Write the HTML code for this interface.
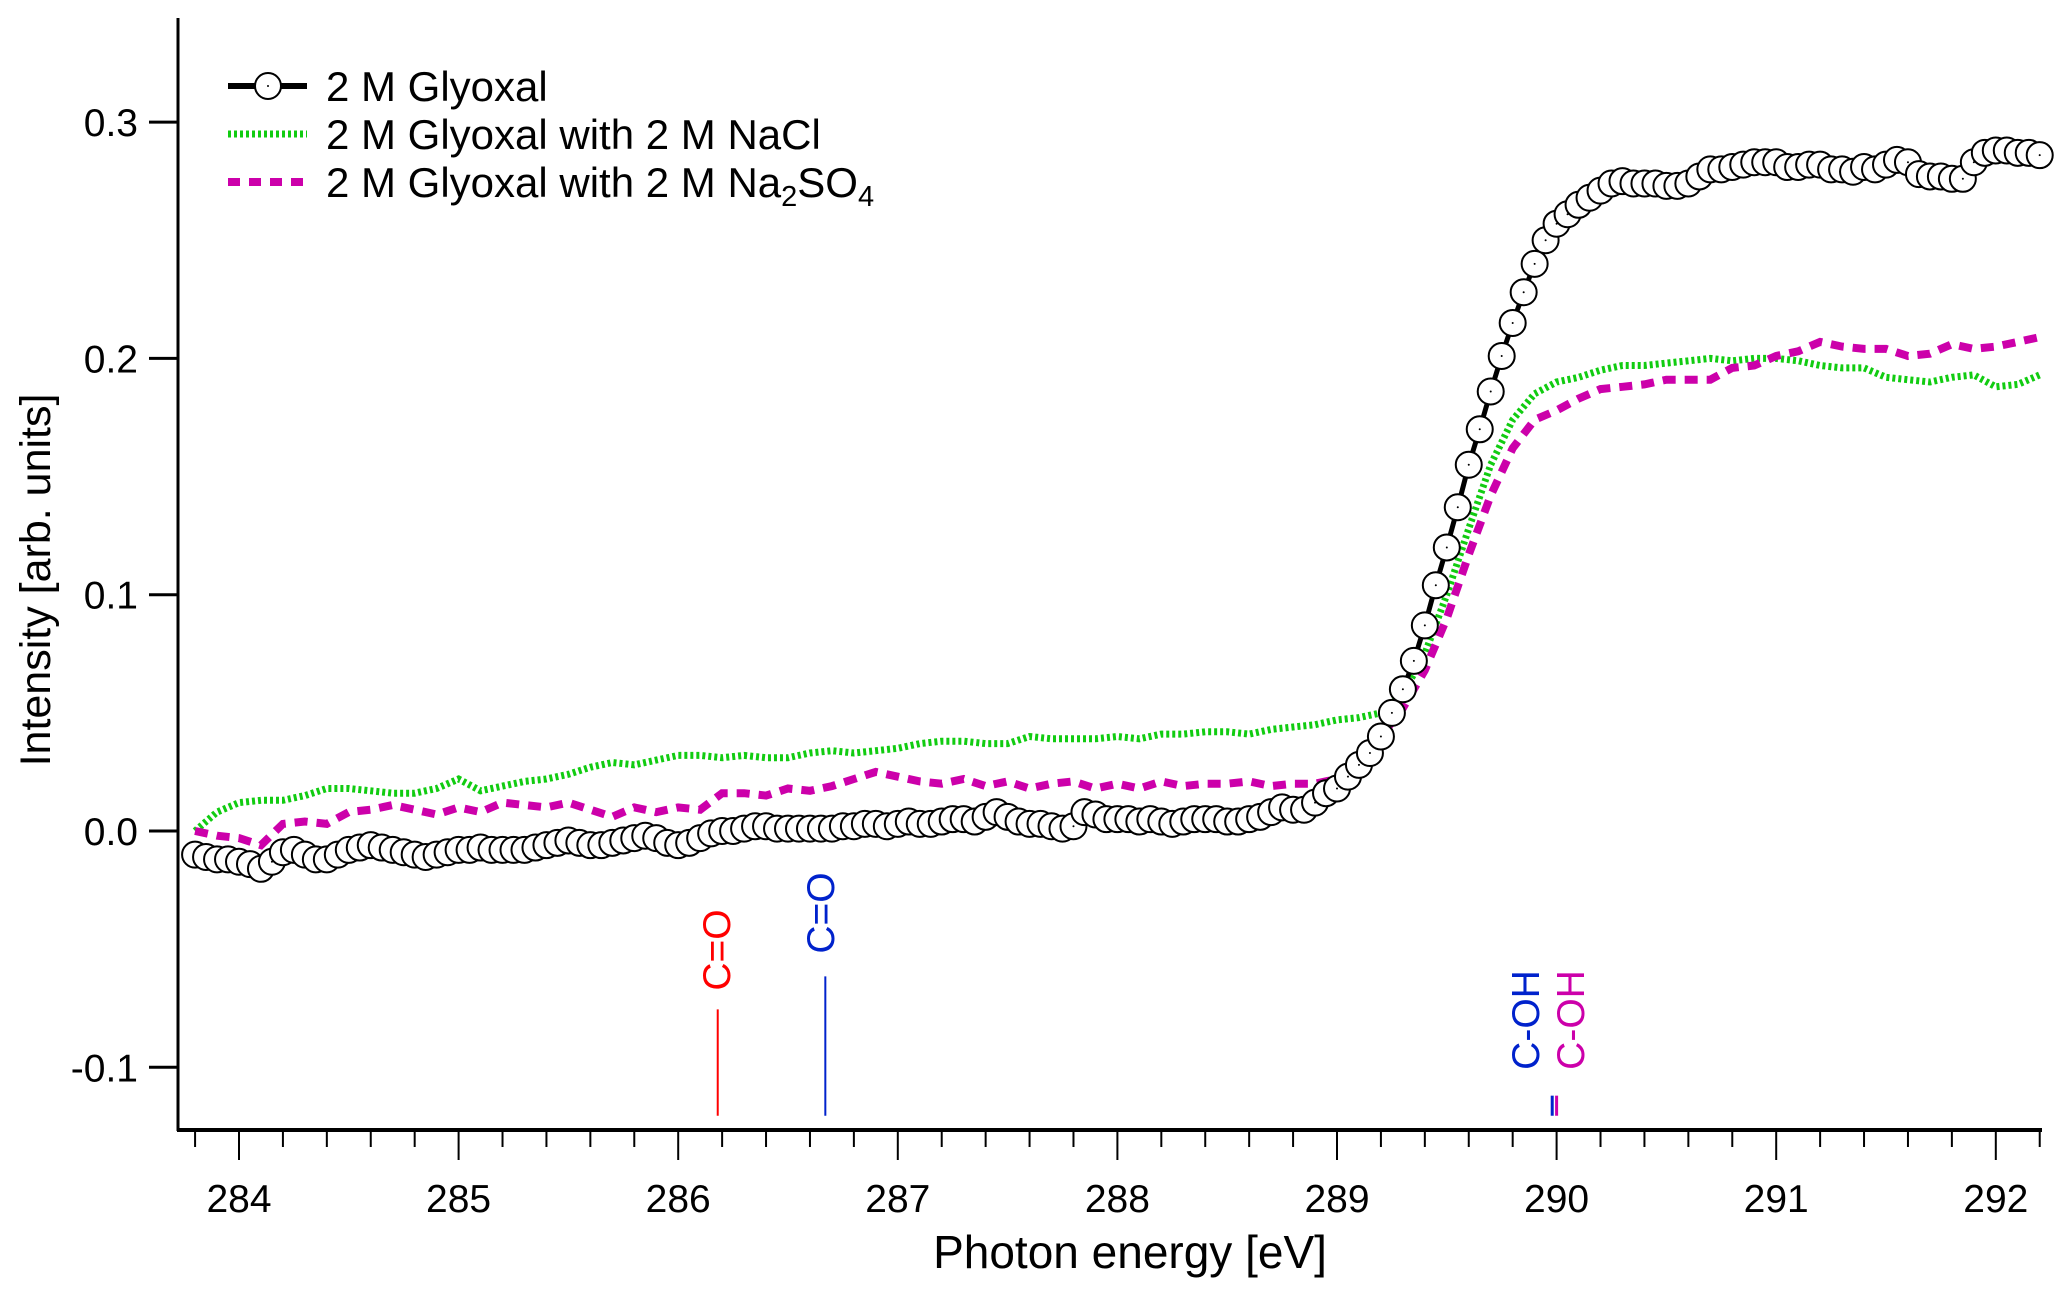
<!DOCTYPE html>
<html><head><meta charset="utf-8"><style>
html,body{margin:0;padding:0;background:#fff;}
svg text{font-family:"Liberation Sans",Arial,sans-serif;}
</style></head><body>
<svg id="chart" width="2067" height="1295" viewBox="0 0 2067 1295" xmlns="http://www.w3.org/2000/svg">
<g id="axes"></g>
<g id="annot"></g>
<g id="series"></g>
<g id="legend"></g>
</svg>
<script>
const xStart = 283.8;
const glyoxal = [-0.010,-0.011,-0.012,-0.012,-0.013,-0.014,-0.016,-0.013,-0.009,-0.008,-0.010,-0.012,-0.012,-0.010,-0.008,-0.007,-0.006,-0.007,-0.008,-0.009,-0.010,-0.011,-0.010,-0.009,-0.008,-0.008,-0.007,-0.008,-0.008,-0.008,-0.008,-0.007,-0.006,-0.005,-0.004,-0.005,-0.006,-0.006,-0.005,-0.004,-0.003,-0.002,-0.003,-0.005,-0.006,-0.005,-0.003,-0.001,0.000,0.000,0.001,0.002,0.002,0.001,0.001,0.001,0.001,0.001,0.001,0.002,0.002,0.003,0.003,0.002,0.003,0.004,0.003,0.003,0.004,0.005,0.005,0.004,0.006,0.008,0.006,0.004,0.003,0.003,0.002,0.001,0.002,0.008,0.007,0.005,0.005,0.005,0.004,0.005,0.004,0.003,0.004,0.005,0.005,0.005,0.004,0.004,0.005,0.006,0.008,0.010,0.009,0.009,0.012,0.016,0.018,0.023,0.028,0.033,0.040,0.050,0.060,0.072,0.087,0.104,0.120,0.137,0.155,0.170,0.186,0.201,0.215,0.228,0.240,0.250,0.257,0.261,0.265,0.268,0.271,0.274,0.275,0.274,0.274,0.274,0.273,0.273,0.274,0.277,0.280,0.280,0.281,0.282,0.283,0.283,0.283,0.281,0.281,0.282,0.282,0.280,0.280,0.279,0.281,0.280,0.282,0.284,0.283,0.278,0.277,0.277,0.276,0.276,0.283,0.287,0.288,0.288,0.287,0.287,0.286];
const glyoxalStep = 0.05;
const nacl = [0.0,0.008,0.012,0.013,0.013,0.015,0.018,0.018,0.017,0.016,0.016,0.018,0.022,0.017,0.019,0.021,0.022,0.024,0.027,0.029,0.028,0.030,0.032,0.032,0.031,0.032,0.031,0.031,0.033,0.034,0.033,0.034,0.035,0.037,0.038,0.038,0.037,0.037,0.040,0.039,0.039,0.039,0.040,0.039,0.041,0.041,0.042,0.042,0.041,0.043,0.044,0.045,0.047,0.048,0.050,0.058,0.075,0.100,0.128,0.155,0.174,0.185,0.190,0.192,0.195,0.197,0.197,0.198,0.199,0.200,0.199,0.200,0.200,0.199,0.197,0.196,0.196,0.192,0.191,0.190,0.192,0.193,0.188,0.189,0.193];
const na2so4 = [0.0,-0.002,-0.003,-0.006,0.003,0.004,0.003,0.008,0.009,0.011,0.009,0.007,0.010,0.008,0.012,0.011,0.010,0.012,0.009,0.006,0.010,0.008,0.010,0.009,0.016,0.016,0.015,0.018,0.017,0.019,0.022,0.025,0.023,0.021,0.020,0.022,0.019,0.021,0.018,0.020,0.021,0.018,0.020,0.018,0.021,0.019,0.020,0.020,0.021,0.019,0.020,0.020,0.022,0.030,0.040,0.052,0.068,0.090,0.117,0.142,0.162,0.174,0.178,0.183,0.187,0.188,0.189,0.191,0.191,0.191,0.196,0.197,0.201,0.203,0.207,0.205,0.204,0.204,0.201,0.202,0.206,0.204,0.205,0.207,0.209];
const lineStep = 0.1;
const xTicks = [284,285,286,287,288,289,290,291,292];
const yTicks = [-0.1,0.0,0.1,0.2,0.3];
const yTickLabels = ["-0.1","0.0","0.1","0.2","0.3"];
const peakNames = ["C=O","C=O","C-OH","C-OH"];
const peakEnergies = [286.18,286.67,289.98,290.0];
const peakTops = [-0.0755,-0.0615,-0.112,-0.112];

const NS="http://www.w3.org/2000/svg";
const X0=178,X1=2042,Y0=18,Y1=1130;
function xs(v){return 239+(v-284)*219.6;}
function ys(v){return 831-v*2363;}
function mk(tag,attrs,parent){const e=document.createElementNS(NS,tag);for(const k in attrs)e.setAttribute(k,attrs[k]);parent.appendChild(e);return e;}
const axes=document.getElementById('axes');
let e;
e=mk('line',{x1:X0,y1:Y0,x2:X0,y2:Y1+1,stroke:'#000','stroke-width':3},axes);


e=mk('line',{x1:X0-1,y1:Y1,x2:X1,y2:Y1,stroke:'#000','stroke-width':4},axes);


for(let t=283.8;t<=292.21;t+=0.2){
  const tt=Math.round(t*10)/10;
  const major=Math.abs(tt-Math.round(tt))<1e-6;
  e=mk('line',{x1:xs(tt),y1:Y1,x2:xs(tt),y2:Y1+(major?30:17),stroke:'#000','stroke-width':2},axes);
  
  
}
xTicks.forEach(v=>{
  e=mk('text',{x:xs(v),y:1212,'font-size':39,'text-anchor':'middle'},axes);e.textContent=v;
  
  
});
yTicks.forEach((v,i)=>{
  e=mk('line',{x1:X0-29,y1:ys(v),x2:X0,y2:ys(v),stroke:'#000','stroke-width':3},axes);
  
  
  e=mk('text',{x:138,y:ys(v)+14,'font-size':39,'text-anchor':'end'},axes);e.textContent=yTickLabels[i];
  
  
});
e=mk('text',{x:1130,y:1268,'font-size':46,'text-anchor':'middle'},axes);e.textContent='Photon energy [eV]';


e=mk('text',{x:0,y:0,'font-size':43,'text-anchor':'middle',transform:'translate(50,580) rotate(-90)'},axes);e.textContent='Intensity [arb. units]';



const annot=document.getElementById('annot');
const peakColors=['#ff0000','#0022cc','#0022cc','#cc00aa'];
const labelX=[716,820,1525,1570];
const labelY=[950,913,1020,1020];
peakEnergies.forEach((p,i)=>{
  e=mk('line',{x1:xs(p),y1:ys(peakTops[i]),x2:xs(p),y2:ys(-0.1205),stroke:peakColors[i],'stroke-width':i>=2?3:2},annot);
  
  
  e=mk('text',{x:0,y:0,'font-size':39,'text-anchor':'middle',fill:peakColors[i],transform:`translate(${labelX[i]+14},${labelY[i]}) rotate(-90)`},annot);
  e.textContent=peakNames[i];
  
  
});

const series=document.getElementById('series');
function pathFrom(arr,step){return arr.map((v,i)=>(i?'L':'M')+xs(xStart+i*step).toFixed(1)+','+ys(v).toFixed(1)).join(' ');}
e=mk('path',{d:pathFrom(nacl,lineStep),fill:'none',stroke:'#11cc11','stroke-width':7,'stroke-dasharray':'3 3'},series);


e=mk('path',{d:pathFrom(na2so4,lineStep),fill:'none',stroke:'#cc00aa','stroke-width':8,'stroke-dasharray':'13 9'},series);


e=mk('path',{d:pathFrom(glyoxal,glyoxalStep),fill:'none',stroke:'#000','stroke-width':5},series);


glyoxal.forEach((v,i)=>{
  const cx=xs(xStart+i*glyoxalStep),cy=ys(v);
  e=mk('circle',{cx:cx,cy:cy,r:13,fill:'#fff',stroke:'#000','stroke-width':2},series);
  
  
  mk('circle',{cx:cx,cy:cy,r:1,fill:'#000'},series);
});

const lg=document.getElementById('legend');
const legNames=['2 M Glyoxal','2 M Glyoxal with 2 M NaCl'];
const rowsY=[86,134,182];
e=mk('line',{x1:228,y1:rowsY[0],x2:307,y2:rowsY[0],stroke:'#000','stroke-width':6},lg);


mk('circle',{cx:268,cy:rowsY[0],r:13,fill:'#fff',stroke:'#000','stroke-width':2},lg);
mk('circle',{cx:268,cy:rowsY[0],r:1,fill:'#000'},lg);
e=mk('line',{x1:228,y1:rowsY[1],x2:307,y2:rowsY[1],stroke:'#11cc11','stroke-width':7,'stroke-dasharray':'3 3'},lg);


e=mk('line',{x1:228,y1:rowsY[2],x2:307,y2:rowsY[2],stroke:'#cc00aa','stroke-width':8,'stroke-dasharray':'12 9'},lg);


legNames.forEach((n,i)=>{
  e=mk('text',{x:326,y:rowsY[i]+15,'font-size':42},lg);e.textContent=n;
  
  
});
e=mk('text',{x:326,y:rowsY[2]+15,'font-size':42},lg);
e.innerHTML='2 M Glyoxal with 2 M Na<tspan font-size="29" dy="9">2</tspan><tspan dy="-9">SO</tspan><tspan font-size="29" dy="9">4</tspan>';


</script>
</body></html>
